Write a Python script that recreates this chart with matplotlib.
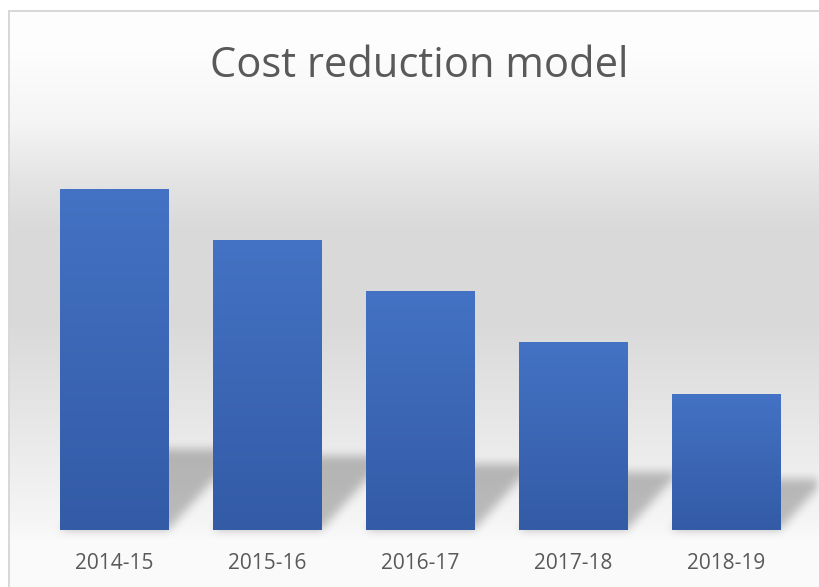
import matplotlib.pyplot as plt
import numpy as np


###############################################################################
# Data
###############################################################################

periods = ["2014-15", "2015-16", "2016-17", "2017-18", "2018-19"]

costs = [100, 85, 70, 55, 40]


###############################################################################
# Layout (pixels)
###############################################################################

W, H = 819, 587
FIRST_BAR_PX = 114      # centre of first bar
PITCH_PX = 153          # distance between bar centres
BASE_PX = 57            # baseline, from the bottom
UNIT_PX = 3.41          # pixels per value unit
CHART_LEFT, CHART_TOP = 8, 10

TEXT_GREY = "#595959"
BAR_TOP = np.array([68, 114, 196]) / 255
BAR_BOTTOM = np.array([51, 91, 166]) / 255


def box_blur(a, r, passes=3):

    k = np.ones(2 * r + 1) / (2 * r + 1)

    for _ in range(passes):

        a = np.apply_along_axis(lambda m: np.convolve(m, k, mode="same"), 0, a)

        a = np.apply_along_axis(lambda m: np.convolve(m, k, mode="same"), 1, a)

    return a


fig = plt.figure(figsize=(W / 100, H / 100), dpi=100)

ax = fig.add_axes([0, 0, 1, 1])

xlim = (-FIRST_BAR_PX / PITCH_PX, (W - FIRST_BAR_PX) / PITCH_PX)
ylim = (-BASE_PX / UNIT_PX, (H - BASE_PX) / UNIT_PX)

ax.set_xlim(*xlim)
ax.set_ylim(*ylim)
ax.axis("off")

extent = [xlim[0], xlim[1], ylim[0], ylim[1]]


###############################################################################
# Background gradient
###############################################################################

rows = np.arange(H)

profile = np.interp(

    rows,

    [0, 50, 120, 180, 230, 320, 400, 470, 525, 540, H],

    [254, 253, 245, 228, 217, 217, 228, 238, 246, 250, 251]

) / 255

bg = np.repeat(profile[:, None], W, axis=1)
bg[:CHART_TOP, :] = 1.0
bg[:, :CHART_LEFT] = 1.0
bg[CHART_TOP:CHART_TOP + 2, CHART_LEFT:] = 0.85
bg[CHART_TOP:, CHART_LEFT:CHART_LEFT + 2] = 0.85

ax.imshow(

    np.dstack([bg, bg, bg]),

    extent=extent,

    aspect="auto",

    origin="upper",

    zorder=0

)


###############################################################################
# Soft shadows behind the bars
###############################################################################

xs = np.linspace(xlim[0], xlim[1], W)
ys = np.linspace(ylim[1], ylim[0], H)
X, Y = np.meshgrid(xs, ys)

half = 0.355
mask = np.zeros((H, W))

for i, v in enumerate(costs):

    dy_px = 0.15 * v * UNIT_PX + 30
    dy = dy_px / UNIT_PX
    dx = 0.9 * dy_px / PITCH_PX

    t = Y / dy
    left = i - half + t * dx
    right = i + half + t * dx

    inside = (Y >= 0) & (Y <= dy) & (X >= left) & (X <= right)

    mask[inside] = 1.0

mask = box_blur(mask, 4)

shadow = np.zeros((H, W, 4))
shadow[..., 3] = 0.24 * mask

ax.imshow(shadow, extent=extent, aspect="auto", origin="upper", zorder=1)


###############################################################################
# Bars with vertical gradient
###############################################################################

bars = ax.bar(

    range(len(costs)),

    costs,

    width=2 * half,

    color="none",

    edgecolor="none",

    zorder=2

)

grad = np.linspace(0, 1, 256)[:, None, None]
grad_rgb = BAR_TOP * (1 - grad) + BAR_BOTTOM * grad

for i, (bar, v) in enumerate(zip(bars, costs)):

    im = ax.imshow(

        grad_rgb,

        extent=[i - half, i + half, 0, v],

        aspect="auto",

        origin="upper",

        zorder=3

    )

    im.set_clip_path(bar)

ax.set_xlim(*xlim)
ax.set_ylim(*ylim)


###############################################################################
# Text
###############################################################################

fig.text(

    419.5 / W,

    1 - 77 / H,

    "Cost reduction model",

    ha="center",

    va="baseline",

    fontsize=30,

    color=TEXT_GREY,

    family="Open Sans"

)

for i, label in enumerate(periods):

    ax.text(

        i,

        1 - 569 / H,

        label,

        transform=ax.get_xaxis_transform(),

        ha="center",

        va="baseline",

        fontsize=15,

        color=TEXT_GREY,

        family="Open Sans",

        zorder=4

    )

fig.savefig("out.png", dpi=100)
